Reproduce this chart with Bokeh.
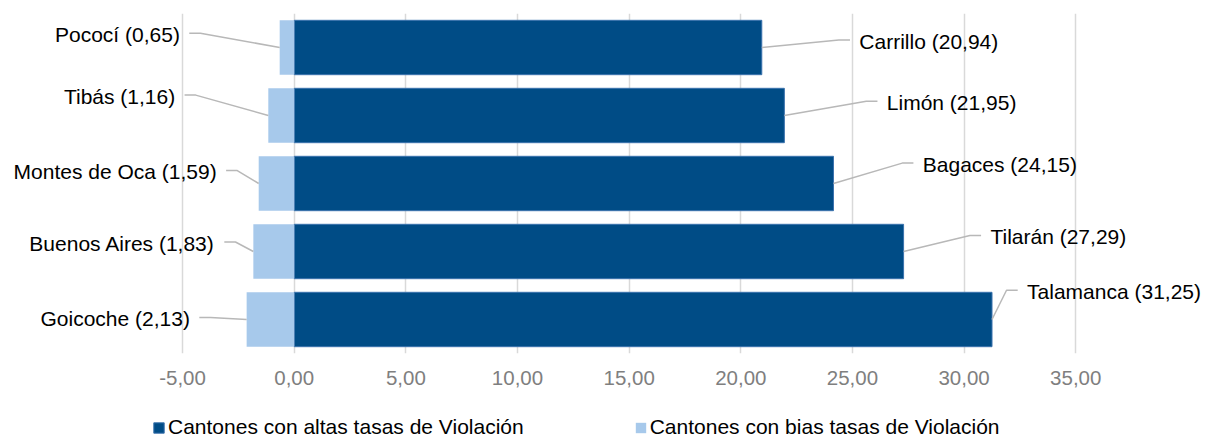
from bokeh.plotting import figure
from bokeh.layouts import column
from bokeh.models import Range1d, FixedTicker, Legend, LegendItem, ColumnDataSource
from bokeh.core.properties import value
from bokeh.embed import file_html
from bokeh.resources import INLINE

# ---- data ----
low_names = ["Pococí", "Tibás", "Montes de Oca", "Buenos Aires", "Goicoche"]
low_vals = [0.65, 1.16, 1.59, 1.83, 2.13]
high_names = ["Carrillo", "Limón", "Bagaces", "Tilarán", "Talamanca"]
high_vals = [20.94, 21.95, 24.15, 27.29, 31.25]
tick_values = [-5, 0, 5, 10, 15, 20, 25, 30, 35]
tick_labels = ["-5,00", "0,00", "5,00", "10,00", "15,00", "20,00", "25,00", "30,00", "35,00"]
series_names = ["Cantones con altas tasas de Violación", "Cantones con bias tasas de Violación"]

# ---- label layout (elbow of leader line: x in data units, y offset in row units) ----
low_elbow_x = [-4.20, -4.41, -2.55, -2.63, -3.75]
low_elbow_dy = [-0.21, -0.30, -0.19, -0.14, -0.03]
high_elbow_x = [24.39, 25.62, 27.23, 30.26, 31.90]
high_elbow_dy = [-0.11, -0.21, -0.30, -0.235, -0.43]
HSEG = 0.5
GAP = 0.42

DARK = "#004C86"
LIGHT = "#A7C9EB"
EDGE = "#3A72AD"
FONT = "Liberation Sans"

rows = list(range(len(low_vals)))
neg_low = [-v for v in low_vals]

def fmt(name, v):
    return f"{name} ({v:.2f})".replace(".", ",")

p = figure(width=1208, height=401,
           x_range=Range1d(-13.153, 40.945), y_range=Range1d(4.5, -0.5),
           output_backend="svg", toolbar_location=None, y_axis_location=None,
           min_border_left=0, min_border_right=0, min_border_top=13, min_border_bottom=48)
p.outline_line_color = None
p.border_fill_color = "white"

# grid
p.ygrid.visible = False
p.xgrid.ticker = FixedTicker(ticks=tick_values)
p.xgrid.grid_line_color = "#D9D9D9"
p.xgrid.grid_line_width = 1.5

# axis
ax = p.xaxis[0]
ax.ticker = FixedTicker(ticks=tick_values)
ax.major_label_overrides = {t: l for t, l in zip(tick_values, tick_labels)}
ax.axis_line_color = None
ax.major_tick_line_color = None
ax.minor_tick_line_color = None
ax.major_label_standoff = 11
ax.major_label_text_font = FONT
ax.major_label_text_font_size = "20.5px"
ax.major_label_text_color = "#7F7F7F"

# bars
src = ColumnDataSource(dict(y=rows, high=high_vals, neg=neg_low))
p.hbar(y="y", left=0, right="high", height=0.8, source=src,
       fill_color=DARK, line_color=EDGE, line_width=1)
p.hbar(y="y", left="neg", right=0, height=0.8, source=src,
       fill_color=LIGHT, line_color=None)

# leader lines
xs, ys = [], []
for i in rows:
    ey = i + low_elbow_dy[i]
    xs.append([neg_low[i], low_elbow_x[i], low_elbow_x[i] - HSEG])
    ys.append([i, ey, ey])
    ey2 = i + high_elbow_dy[i]
    xs.append([high_vals[i], high_elbow_x[i], high_elbow_x[i] + HSEG])
    ys.append([i, ey2, ey2])
p.multi_line(xs=xs, ys=ys, line_color="#B8B8B8", line_width=1.5)

# labels
left_src = ColumnDataSource(dict(
    x=[low_elbow_x[i] - HSEG - GAP for i in rows],
    y=[i + low_elbow_dy[i] + 0.02 for i in rows],
    t=[fmt(n, v) for n, v in zip(low_names, low_vals)]))
p.text(x="x", y="y", text="t", source=left_src, text_align="right", text_baseline="middle",
       text_font=value(FONT), text_font_size="21px", text_color="#000000")
right_src = ColumnDataSource(dict(
    x=[high_elbow_x[i] + HSEG + GAP for i in rows],
    y=[i + high_elbow_dy[i] + 0.02 for i in rows],
    t=[fmt(n, v) for n, v in zip(high_names, high_vals)]))
p.text(x="x", y="y", text="t", source=right_src, text_align="left", text_baseline="middle",
       text_font=value(FONT), text_font_size="21px", text_color="#000000")

# legend strip (key swatches use a proxy row placed outside the strip's visible range)
lg = figure(width=1208, height=38, x_range=Range1d(0, 1), y_range=Range1d(0, 1),
            output_backend="svg", toolbar_location=None,
            x_axis_location=None, y_axis_location=None,
            min_border_left=0, min_border_right=0, min_border_top=0, min_border_bottom=0)
lg.outline_line_color = None
lg.xgrid.visible = False
lg.ygrid.visible = False
proxy = ColumnDataSource(dict(y=[-10], l=[0], r=[1]))
k_high = lg.hbar(y="y", left="l", right="r", height=0.8, source=proxy,
                 fill_color=DARK, line_color=EDGE, line_width=1)
k_low = lg.hbar(y="y", left="l", right="r", height=0.8, source=proxy,
                fill_color=LIGHT, line_color=None)
legend = Legend(items=[LegendItem(label=series_names[0], renderers=[k_high]),
                       LegendItem(label=series_names[1], renderers=[k_low])],
                orientation="horizontal", location=(152, 0), padding=0, margin=0,
                spacing=110, glyph_width=13, glyph_height=13, label_standoff=3,
                border_line_alpha=0, background_fill_alpha=0,
                label_text_font=FONT, label_text_font_size="21px", label_text_color="#000000")
lg.add_layout(legend)

layout = column(p, lg, spacing=0)
open("out.html", "w").write(file_html(layout, INLINE))
